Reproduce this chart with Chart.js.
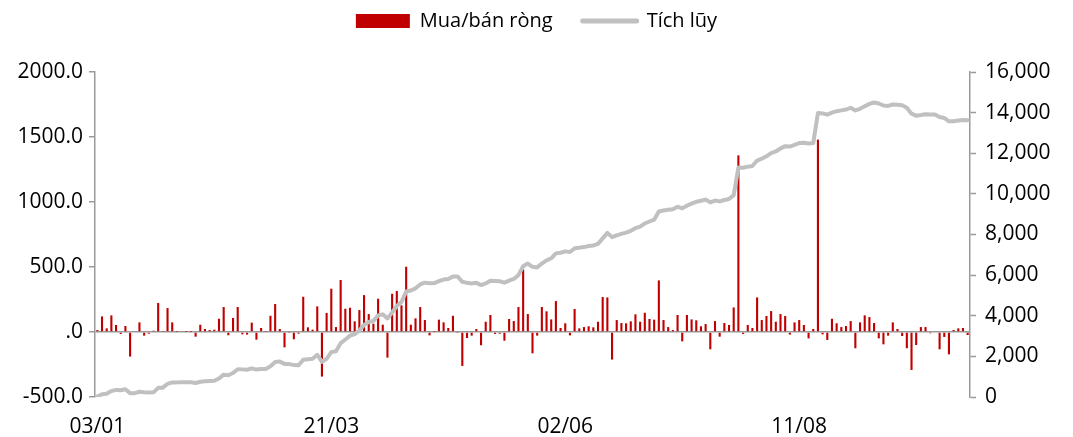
<!DOCTYPE html>
<html><head><meta charset="utf-8">
<script src="https://cdn.jsdelivr.net/npm/chart.js@4.4.0/dist/chart.umd.min.js"></script>
<style>html,body{margin:0;padding:0;background:#fff}#wrap{width:1073px;height:437px}</style>
</head><body><div id="wrap"><canvas id="c" width="1073" height="437"></canvas></div>
<script>
const categories = [
'03/01','04/01','05/01','06/01','09/01','10/01','11/01','12/01','13/01','16/01','17/01','18/01','19/01','27/01','30/01','31/01',
'01/02','02/02','03/02','06/02','07/02','08/02','09/02','10/02','13/02','14/02','15/02','16/02','17/02','20/02','21/02','22/02','23/02','24/02','27/02','28/02',
'01/03','02/03','03/03','06/03','07/03','08/03','09/03','10/03','13/03','14/03','15/03','16/03','17/03','20/03','21/03','22/03','23/03','24/03','27/03','28/03','29/03','30/03','31/03',
'03/04','04/04','05/04','06/04','07/04','10/04','11/04','12/04','13/04','14/04','17/04','18/04','19/04','20/04','21/04','24/04','25/04','26/04','27/04','28/04',
'04/05','05/05','08/05','09/05','10/05','11/05','12/05','15/05','16/05','17/05','18/05','19/05','22/05','23/05','24/05','25/05','26/05','29/05','30/05','31/05',
'01/06','02/06','05/06','06/06','07/06','08/06','09/06','12/06','13/06','14/06','15/06','16/06','19/06','20/06','21/06','22/06','23/06','26/06','27/06','28/06','29/06','30/06',
'03/07','04/07','05/07','06/07','07/07','10/07','11/07','12/07','13/07','14/07','17/07','18/07','19/07','20/07','21/07','24/07','25/07','26/07','27/07','28/07','31/07',
'01/08','02/08','03/08','04/08','07/08','08/08','09/08','10/08','11/08','14/08','15/08','16/08','17/08','18/08','21/08','22/08','23/08','24/08','25/08','28/08','29/08','30/08','31/08',
'05/09','06/09','07/09','08/09','11/09','12/09','13/09','14/09','15/09','18/09','19/09','20/09','21/09','22/09','25/09','26/09','27/09','28/09','29/09',
'02/10','03/10','04/10'];

const netFlow = [
15,120,28,128,54,-15,46,-189,0,74,-28,-13,10,223,8,184,74,2,5,1,1,-36,56,23,15,18,102,192,-25,108,192,-18,-20,72,-59,31,3,125,
215,23,-118,-3,-56,-13,271,36,18,197,-343,146,333,38,400,179,187,82,169,284,138,64,256,56,-197,294,315,205,502,56,105,192,92,-26,2,95,74,
31,125,-3,-261,-46,-28,23,-102,79,131,-15,-13,-67,100,84,192,481,138,-164,-28,192,159,97,238,31,67,-26,177,28,38,44,36,79,269,266,-212,92,69,
67,82,136,79,148,100,95,397,92,38,15,131,-72,131,97,90,44,61,-133,84,-36,69,54,189,1359,-15,54,31,266,92,123,161,79,138,123,-20,74,
92,54,-49,23,1480,-18,-61,102,67,38,46,84,-125,74,128,115,69,-49,-95,-28,74,23,-31,-125,-292,-100,38,38,-10,0,-133,-38,-172,15,28,31,-23];

const cumulative = [
20,140,160,290,350,330,380,190,190,260,
230,220,230,450,460,650,720,720,730,730,
730,690,750,770,790,800,910,1100,1070,1180,
1370,1360,1340,1410,1350,1380,1380,1510,1720,1750,
1630,1620,1570,1560,1830,1860,1880,2080,1730,1880,
2210,2250,2650,2830,3020,3100,3270,3550,3690,3750,
4010,4070,3870,4160,4480,4680,5190,5240,5350,5540,
5630,5600,5610,5700,5780,5810,5930,5930,5670,5620,
5590,5620,5510,5590,5720,5710,5700,5630,5730,5810,
6000,6440,6570,6410,6380,6570,6730,6830,7070,7100,
7170,7140,7320,7350,7380,7430,7460,7540,7810,8080,
7870,7960,8030,8090,8180,8310,8390,8540,8640,8730,
9130,9180,9220,9240,9370,9290,9420,9520,9610,9660,
9720,9580,9670,9630,9700,9750,9940,11300,11290,11340,
11370,11640,11730,11850,12010,12090,12230,12350,12330,12410,
12500,12520,12480,12500,13980,13960,13900,14000,14070,14110,
14150,14240,14110,14190,14310,14430,14500,14450,14350,14330,
14400,14390,14360,14240,13950,13850,13880,13920,13910,13910,
13780,13740,13570,13580,13610,13640,13620];

const xTickLabels = ['03/01','21/03','02/06','11/08'];
const seriesNames = ['Mua/bán ròng','Tích lũy'];
const leftAxis = {min:-500, max:2000, step:500};
const rightAxis = {min:0, max:16000, step:2000};

const RED = '#C00000', GREY = '#C0C0C0', AXIS = '#9A9A9A';
const FONT = "'Open Sans', 'Noto Sans', sans-serif";

const legendHeight = {
  id:'legendHeight',
  afterInit(chart){
    const lg = chart.legend;
    const orig = lg.fit.bind(lg);
    lg.fit = function(){ orig(); this.height = 91; };
  }
};

new Chart(document.getElementById('c'), {
  data: {
    labels: categories,
    datasets: [
      {type:'line', label:seriesNames[1], data:cumulative, yAxisID:'y1', borderColor:GREY, backgroundColor:GREY,
       borderWidth:4, pointRadius:0, tension:0, order:0, borderJoinStyle:'round', borderCapStyle:'round'},
      {type:'bar', label:seriesNames[0], data:netFlow, yAxisID:'y', backgroundColor:RED, borderWidth:0,
       barPercentage:0.45, categoryPercentage:1, order:1}
    ]
  },
  options: {
    responsive:false, animation:false,
    layout:{padding:{top:-19, left:0, right:0, bottom:0}},
    plugins:{
      tooltip:{enabled:false},
      legend:{
        position:'top', align:'center',
        labels:{
          font:{family:FONT, size:20}, color:'#000', padding:30,
          usePointStyle:true, pointStyleWidth:54, boxHeight:14,
          generateLabels(){
            return [
              {text:seriesNames[0], fillStyle:RED, strokeStyle:RED, lineWidth:0, pointStyle:'rect', datasetIndex:1, hidden:false},
              {text:seriesNames[1], fillStyle:GREY, strokeStyle:GREY, lineWidth:5, lineCap:'round', pointStyle:'line', datasetIndex:0, hidden:false}
            ];
          }
        }
      }
    },
    scales:{
      x:{
        type:'category', offset:true,
        grid:{display:false}, border:{display:false},
        ticks:{autoSkip:false, maxRotation:0, minRotation:0, padding:9, color:'#000', font:{family:FONT, size:21},
          callback(v,i){ const l = categories[i]; return xTickLabels.includes(l) ? l : ''; }},
        afterFit(s){ s.height = 40; }
      },
      y:{
        position:'left', min:leftAxis.min, max:leftAxis.max,
        border:{display:true, color:AXIS, width:1.5},
        grid:{drawOnChartArea:true, color:c => c.tick && c.tick.value === 0 ? AXIS : 'rgba(0,0,0,0)', lineWidth:1.5,
              drawTicks:true, tickLength:6, tickColor:AXIS, tickWidth:1.5},
        ticks:{stepSize:leftAxis.step, padding:6, color:'#000', font:{family:FONT, size:21},
          callback:v => v === 0 ? '.0' : Number(v).toFixed(1)},
        afterFit(s){ s.width = 95; }
      },
      y1:{
        position:'right', min:rightAxis.min, max:rightAxis.max,
        border:{display:true, color:AXIS, width:1.5},
        grid:{drawOnChartArea:false, drawTicks:true, tickLength:6, tickColor:AXIS, tickWidth:1.5},
        ticks:{stepSize:rightAxis.step, padding:9, color:'#000', font:{family:FONT, size:21},
          callback:v => Number(v).toLocaleString('en-US')},
        afterFit(s){ s.width = 103; }
      }
    }
  },
  plugins:[legendHeight]
});
</script></body></html>
